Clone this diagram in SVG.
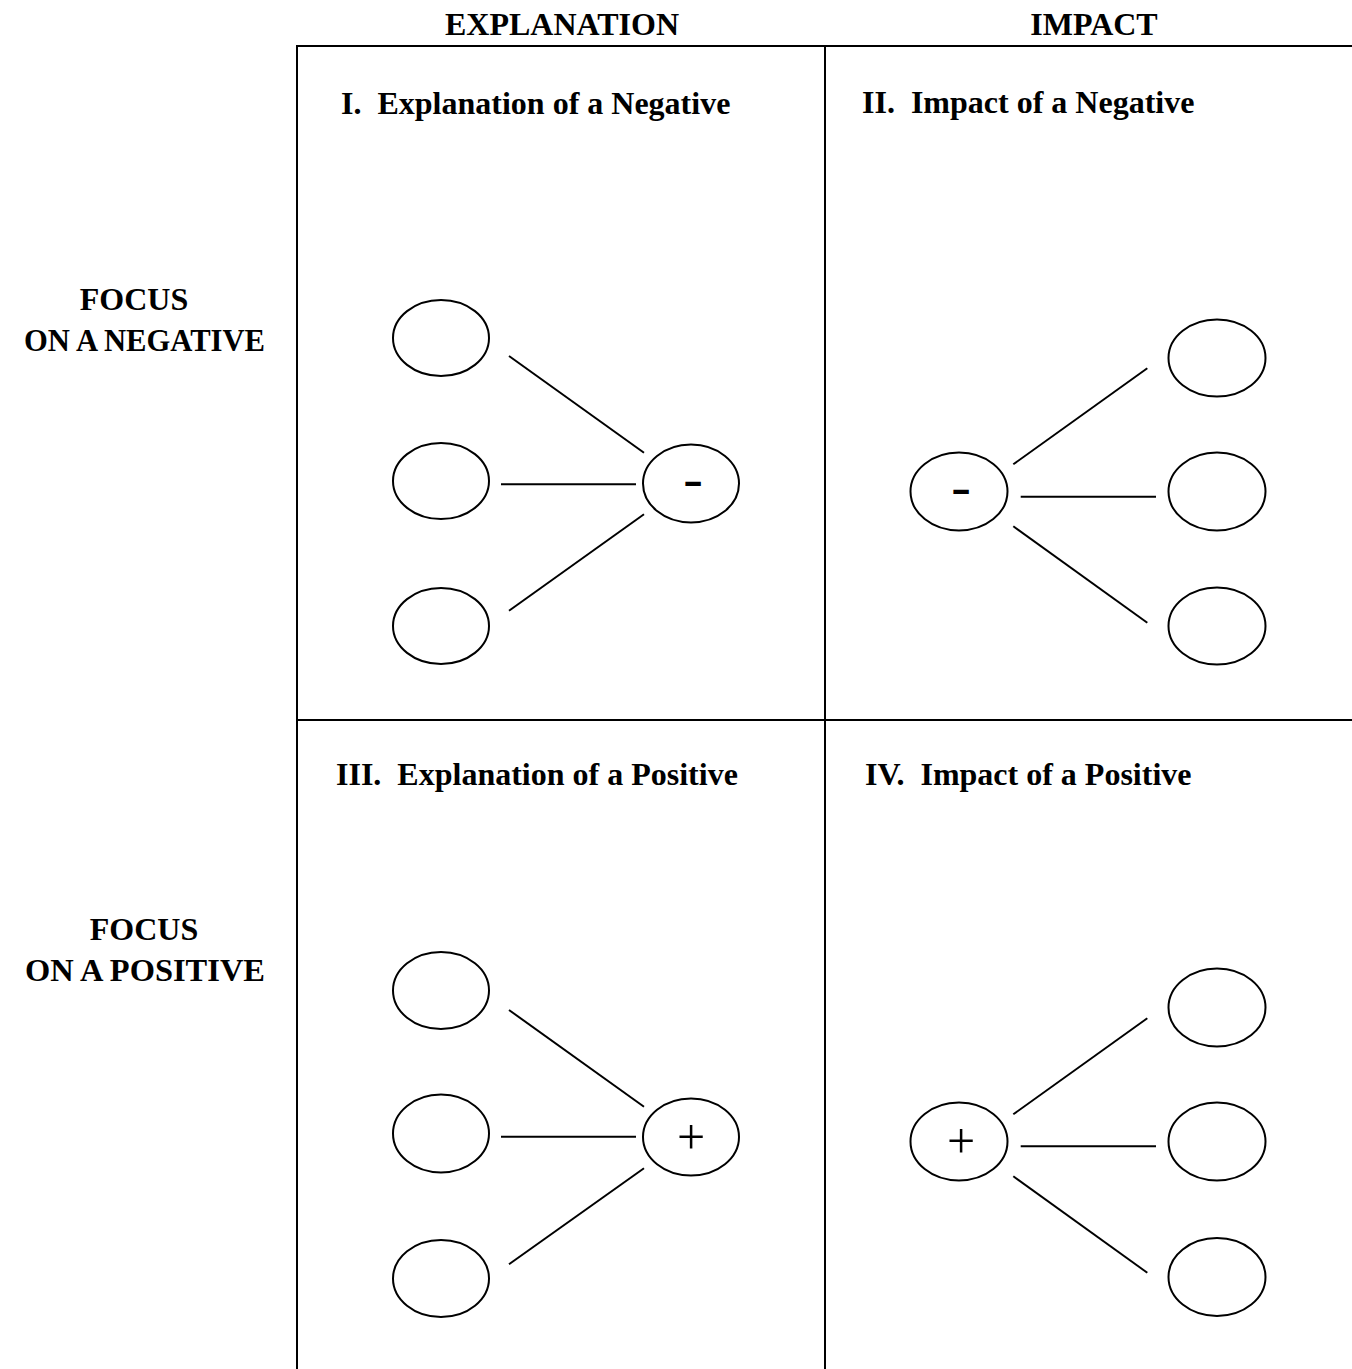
<svg xmlns="http://www.w3.org/2000/svg" width="1352" height="1369" viewBox="0 0 1352 1369">
<style>
.hd{font-family:"Liberation Serif","Times New Roman",serif;font-weight:bold;font-size:32px;fill:#000}
.node ellipse{fill:#fff;stroke:#000;stroke-width:2}
.grid line,.edges line{stroke:#000;stroke-width:2}
.minus{font-family:"Liberation Sans",Arial,sans-serif;font-weight:bold;font-size:32px;fill:#000}
.plus{font-family:"Liberation Serif","Times New Roman",serif;font-size:50px;fill:#000}
</style>
<rect width="1352" height="1369" fill="#fff"/>
<g id="grid" class="grid">
<line x1="297" y1="46" x2="1352" y2="46"/>
<line x1="297" y1="45" x2="297" y2="1369"/>
<line x1="825" y1="46" x2="825" y2="1369"/>
<line x1="297" y1="720" x2="1352" y2="720"/>
</g>
<g id="headers">
<text class="hd" x="562" y="35" text-anchor="middle">EXPLANATION</text>
<text class="hd" x="1094" y="35" text-anchor="middle">IMPACT</text>
<text class="hd" x="134" y="310" text-anchor="middle">FOCUS</text>
<text class="hd" x="24" y="351" textLength="241" lengthAdjust="spacingAndGlyphs">ON A NEGATIVE</text>
<text class="hd" x="144" y="940" text-anchor="middle">FOCUS</text>
<text class="hd" x="25" y="981" textLength="240" lengthAdjust="spacingAndGlyphs">ON A POSITIVE</text>
<text class="hd" x="341" y="114" xml:space="preserve">I.  Explanation of a Negative</text>
<text class="hd" x="862" y="113" xml:space="preserve">II.  Impact of a Negative</text>
<text class="hd" x="336" y="785" xml:space="preserve">III.  Explanation of a Positive</text>
<text class="hd" x="865" y="785" xml:space="preserve">IV.  Impact of a Positive</text>
</g>
<g id="edges" class="edges">
<line x1="509" y1="356" x2="644" y2="452.7"/>
<line x1="501" y1="484.3" x2="636" y2="484.3"/>
<line x1="509" y1="610.7" x2="644" y2="514.3"/>
<line x1="1013.3" y1="464.3" x2="1147.3" y2="368.3"/>
<line x1="1020.7" y1="496.7" x2="1156" y2="496.7"/>
<line x1="1013.3" y1="526.3" x2="1147.3" y2="622.7"/>
<line x1="509" y1="1010" x2="644" y2="1106.7"/>
<line x1="501" y1="1136.7" x2="636" y2="1136.7"/>
<line x1="509" y1="1264.3" x2="644" y2="1168.3"/>
<line x1="1013.3" y1="1114.3" x2="1147.3" y2="1018.3"/>
<line x1="1020.7" y1="1146.3" x2="1156" y2="1146.3"/>
<line x1="1013.3" y1="1176.3" x2="1147.3" y2="1272.7"/>
</g>
<g id="q1-a" class="node"><ellipse cx="441" cy="338" rx="48" ry="38"/></g>
<g id="q1-b" class="node"><ellipse cx="441" cy="481" rx="48" ry="38"/></g>
<g id="q1-c" class="node"><ellipse cx="441" cy="626" rx="48" ry="38"/></g>
<g id="q1-neg" class="node"><ellipse cx="691" cy="483.5" rx="48" ry="39"/><text class="minus" transform="translate(693 493) scale(1.9 1.1)" text-anchor="middle">-</text></g>
<g id="q2-neg" class="node"><ellipse cx="959" cy="491.5" rx="48.5" ry="39"/><text class="minus" transform="translate(961 501) scale(1.9 1.1)" text-anchor="middle">-</text></g>
<g id="q2-a" class="node"><ellipse cx="1217" cy="358" rx="48.5" ry="38.5"/></g>
<g id="q2-b" class="node"><ellipse cx="1217" cy="491.5" rx="48.5" ry="39"/></g>
<g id="q2-c" class="node"><ellipse cx="1217" cy="626" rx="48.5" ry="38.5"/></g>
<g id="q3-a" class="node"><ellipse cx="441" cy="990.5" rx="48" ry="38.5"/></g>
<g id="q3-b" class="node"><ellipse cx="441" cy="1133.5" rx="48" ry="39"/></g>
<g id="q3-c" class="node"><ellipse cx="441" cy="1278.5" rx="48" ry="38.5"/></g>
<g id="q3-pos" class="node"><ellipse cx="691" cy="1137" rx="48" ry="38.5"/><text class="plus" x="691" y="1153.5" text-anchor="middle">+</text></g>
<g id="q4-pos" class="node"><ellipse cx="959" cy="1141.5" rx="48.5" ry="39"/><text class="plus" x="961" y="1157.5" text-anchor="middle">+</text></g>
<g id="q4-a" class="node"><ellipse cx="1217" cy="1007.5" rx="48.5" ry="39"/></g>
<g id="q4-b" class="node"><ellipse cx="1217" cy="1141.5" rx="48.5" ry="39"/></g>
<g id="q4-c" class="node"><ellipse cx="1217" cy="1277" rx="48.5" ry="39"/></g>
</svg>
